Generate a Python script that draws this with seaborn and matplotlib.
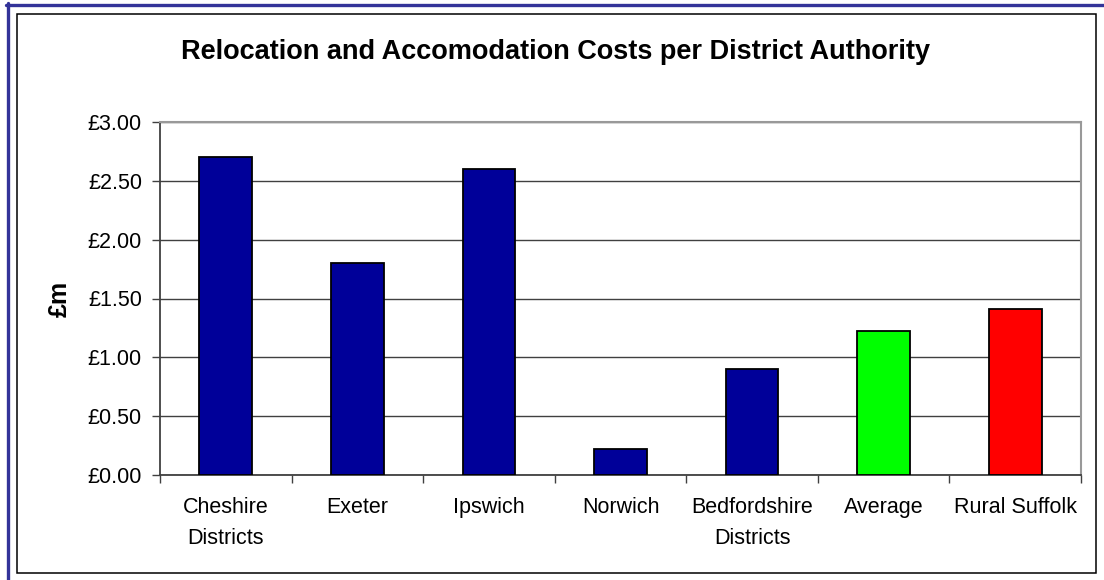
import matplotlib
matplotlib.use("Agg")
import matplotlib.pyplot as plt
from matplotlib.patches import Rectangle
from matplotlib.lines import Line2D
from matplotlib.ticker import FixedLocator, MultipleLocator, FuncFormatter
import seaborn as sns
import pandas as pd

# Cost per district authority, in £ millions
categories = ["Cheshire\nDistricts", "Exeter", "Ipswich", "Norwich",
              "Bedfordshire\nDistricts", "Average", "Rural Suffolk"]
costs = [2.70, 1.80, 2.60, 0.22, 0.90, 1.22, 1.41]
bar_colors = ["#000099", "#000099", "#000099", "#000099",
              "#000099", "#00FF00", "#FF0000"]

title = "Relocation and Accomodation Costs per District Authority"
y_label = "£m"

sns.set_theme(style="white")
plt.rcParams["font.family"] = ["Liberation Sans", "DejaVu Sans"]

W, H = 1104, 580
fig = plt.figure(figsize=(W / 100, H / 100), dpi=100)
fig.patch.set_facecolor("white")

# Frame lines around the chart
blue = "#333399"
fig.add_artist(Line2D([7.5 / W, 7.5 / W], [0, 1 - 3 / H], transform=fig.transFigure,
                      color=blue, linewidth=2.4))
fig.add_artist(Line2D([6 / W, 1], [1 - 4.5 / H, 1 - 4.5 / H], transform=fig.transFigure,
                      color=blue, linewidth=2.4))
fig.add_artist(Rectangle((16.5 / W, 1 - 573 / H), (1096 - 16.5) / W, (573 - 13.5) / H,
                         transform=fig.transFigure, fill=False,
                         edgecolor="black", linewidth=1.1))

ax = fig.add_axes([160 / W, 1 - 475 / H, (1081 - 160) / W, (475 - 122) / H])

df = pd.DataFrame({"category": categories, "cost": costs})
sns.barplot(data=df, x="category", y="cost", hue="category",
            palette=dict(zip(categories, bar_colors)), legend=False,
            width=0.4, edgecolor="black", linewidth=1.3, saturation=1,
            ax=ax, zorder=3)

ax.set_xlim(-0.5, len(categories) - 0.5)
ax.set_ylim(0, 3.0)
ax.yaxis.set_major_locator(MultipleLocator(0.5))
ax.yaxis.set_major_formatter(FuncFormatter(lambda v, p: f"£{v:.2f}"))
ax.grid(axis="y", color="#404040", linewidth=1.0, zorder=0)
ax.set_axisbelow(True)

# Tick marks sit between the categories
ax.xaxis.set_minor_locator(FixedLocator([i - 0.5 for i in range(len(categories) + 1)]))
ax.tick_params(axis="x", which="major", length=0, pad=16, labelsize=15.5,
               labelcolor="black")
ax.tick_params(axis="x", which="minor", bottom=True, length=6, width=1.0,
               color="#404040", direction="out")
ax.tick_params(axis="y", left=True, length=6, width=1.0, color="#404040",
               direction="out", pad=7, labelsize=15.5, labelcolor="black")
for lbl in ax.get_xticklabels():
    lbl.set_linespacing(1.6)

ax.set_xlabel("")
ax.set_ylabel(y_label, fontsize=18, fontweight="bold", color="black")
ax.yaxis.set_label_coords(-0.096, 0.5)

for side in ["left", "bottom"]:
    ax.spines[side].set_color("#404040")
    ax.spines[side].set_linewidth(1.3)
for side in ["top", "right"]:
    ax.spines[side].set_visible(True)
    ax.spines[side].set_color("#999999")
    ax.spines[side].set_linewidth(1.5)

fig.text(556 / W, 1 - 52 / H, title, ha="center", va="center",
         fontsize=19.5, fontweight="bold", color="black")

fig.savefig("out.png", dpi=100, facecolor="white")
